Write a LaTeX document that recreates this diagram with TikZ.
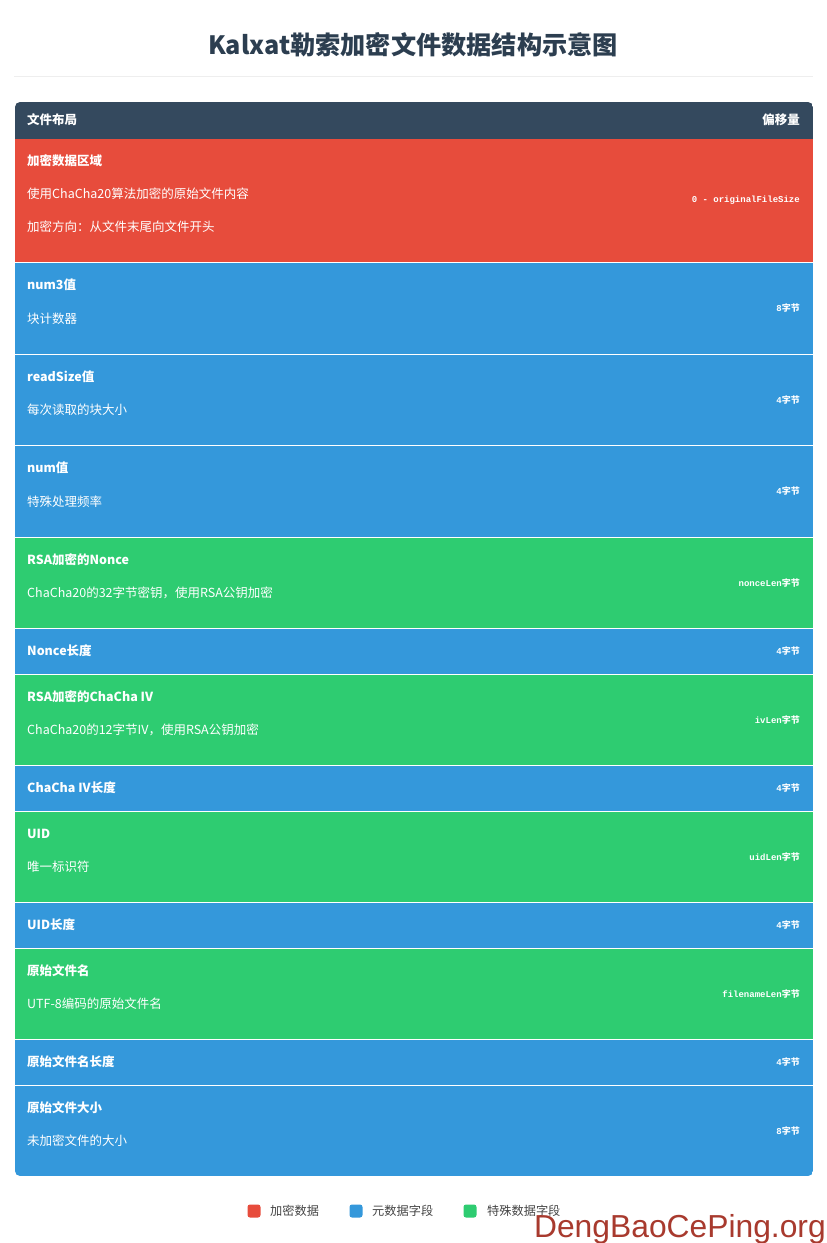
\documentclass[tikz,border=0pt]{standalone}
\usepackage{fontspec}
\setmainfont{Noto Sans CJK SC}
\newfontfamily\cjk{Noto Sans CJK SC}
\newfontfamily\offsetmono{Liberation Mono}
\newfontfamily\markfont{Liberation Sans}

\definecolor{headdark}{HTML}{34495E}
\definecolor{titledark}{HTML}{2C3E50}
\definecolor{encred}{HTML}{E74C3C}
\definecolor{metablue}{HTML}{3498DB}
\definecolor{specgreen}{HTML}{2ECC71}
\definecolor{rulegray}{HTML}{EEEEEE}
\definecolor{keygray}{HTML}{444444}
\definecolor{markred}{HTML}{A83A2E}

\begin{document}
\begin{tikzpicture}[
x=1pt,y=-1pt,
row/.style={
rectangle,
anchor=north west,
inner sep=0,
minimum width=798pt},
fieldname/.style={anchor=west, inner sep=0, text=white, font=\fontsize{12.5}{15}\selectfont\bfseries},
fielddesc/.style={anchor=west, inner sep=0, text=white, font=\fontsize{12.5}{15}\selectfont},
fieldsize/.style={anchor=east, inner sep=0, text=white, font=\fontsize{9}{10}\selectfont\offsetmono\bfseries},
sepline/.style={draw=white, line width=1pt},
keybox/.style={rectangle, rounded corners=2.5pt, minimum size=13pt, inner sep=0},
keytext/.style={anchor=west, inner sep=0, text=keygray, font=\fontsize{12.2}{14}\selectfont}
]

\fill[white] (0,0) rectangle (827,1243);
\useasboundingbox (0,0) rectangle (827,1243);

% title
\node[text=titledark, font=\fontsize{25.2}{28}\selectfont\bfseries] (heading) at (413,45) {Kalxat勒索加密文件数据结构示意图};
\coordinate (ruleL) at (14,76);
\coordinate (ruleR) at (813,76);
\draw[rulegray, line width=1pt] (ruleL) -- (ruleR);

% table rows
\begin{scope}
\clip[rounded corners=5pt] (15,102) rectangle (813,1176);
\node[row, fill=headdark, minimum height=37pt] (head) at (15,102) {};
\node[row, fill=encred, minimum height=123pt] (enc) at (15,139) {};
\node[row, fill=metablue, minimum height=92pt] (numthree) at (15,262) {};
\node[row, fill=metablue, minimum height=91pt] (readsize) at (15,354) {};
\node[row, fill=metablue, minimum height=92pt] (num) at (15,445) {};
\node[row, fill=specgreen, minimum height=91pt] (nonce) at (15,537) {};
\node[row, fill=metablue, minimum height=46pt] (noncelen) at (15,628) {};
\node[row, fill=specgreen, minimum height=91pt] (iv) at (15,674) {};
\node[row, fill=metablue, minimum height=46pt] (ivlen) at (15,765) {};
\node[row, fill=specgreen, minimum height=91pt] (uid) at (15,811) {};
\node[row, fill=metablue, minimum height=46pt] (uidlen) at (15,902) {};
\node[row, fill=specgreen, minimum height=91pt] (fname) at (15,948) {};
\node[row, fill=metablue, minimum height=46pt] (fnamelen) at (15,1039) {};
\node[row, fill=metablue, minimum height=91pt] (fsize) at (15,1085) {};
\end{scope}

% separators
\draw[sepline] (enc.south west) -- (enc.south east);
\draw[sepline] (numthree.south west) -- (numthree.south east);
\draw[sepline] (readsize.south west) -- (readsize.south east);
\draw[sepline] (num.south west) -- (num.south east);
\draw[sepline] (nonce.south west) -- (nonce.south east);
\draw[sepline] (noncelen.south west) -- (noncelen.south east);
\draw[sepline] (iv.south west) -- (iv.south east);
\draw[sepline] (ivlen.south west) -- (ivlen.south east);
\draw[sepline] (uid.south west) -- (uid.south east);
\draw[sepline] (uidlen.south west) -- (uidlen.south east);
\draw[sepline] (fname.south west) -- (fname.south east);
\draw[sepline] (fnamelen.south west) -- (fnamelen.south east);

% header texts
\node[fieldname] (headleft) at (27,120) {文件布局};
\node[fieldname, anchor=east] (headright) at (800,120) {偏移量};

% row texts
\node[fieldname] (encname) at (27,161) {加密数据区域};
\node[fielddesc] (encdescA) at (27,194) {使用ChaCha20算法加密的原始文件内容};
\node[fielddesc] (encdescB) at (27,227) {加密方向：从文件末尾向文件开头};
\node[fieldsize] (encsize) at (800,200) {0 - originalFileSize};

\node[fieldname] (numthreename) at (27,285) {num3值};
\node[fielddesc] (numthreedesc) at (27,319) {块计数器};
\node[fieldsize] (numthreesize) at (800,308) {8{\cjk 字节}};

\node[fieldname] (readsizename) at (27,377) {readSize值};
\node[fielddesc] (readsizedesc) at (27,410) {每次读取的块大小};
\node[fieldsize] (readsizesize) at (800,400) {4{\cjk 字节}};

\node[fieldname] (numname) at (27,468) {num值};
\node[fielddesc] (numdesc) at (27,502) {特殊处理频率};
\node[fieldsize] (numsize) at (800,491) {4{\cjk 字节}};

\node[fieldname] (noncename) at (27,560) {RSA加密的Nonce};
\node[fielddesc] (noncedesc) at (27,593) {ChaCha20的32字节密钥，使用RSA公钥加密};
\node[fieldsize] (noncesize) at (800,583) {nonceLen{\cjk 字节}};

\node[fieldname] (noncelenname) at (27,651) {Nonce长度};
\node[fieldsize] (noncelensize) at (800,651) {4{\cjk 字节}};

\node[fieldname] (ivname) at (27,697) {RSA加密的ChaCha IV};
\node[fielddesc] (ivdesc) at (27,730) {ChaCha20的12字节IV，使用RSA公钥加密};
\node[fieldsize] (ivsize) at (800,720) {ivLen{\cjk 字节}};

\node[fieldname] (ivlenname) at (27,788) {ChaCha IV长度};
\node[fieldsize] (ivlensize) at (800,788) {4{\cjk 字节}};

\node[fieldname] (uidname) at (27,834) {UID};
\node[fielddesc] (uiddesc) at (27,867) {唯一标识符};
\node[fieldsize] (uidsize) at (800,857) {uidLen{\cjk 字节}};

\node[fieldname] (uidlenname) at (27,925) {UID长度};
\node[fieldsize] (uidlensize) at (800,925) {4{\cjk 字节}};

\node[fieldname] (fnamename) at (27,971) {原始文件名};
\node[fielddesc] (fnamedesc) at (27,1004) {UTF-8编码的原始文件名};
\node[fieldsize] (fnamesize) at (800,994) {filenameLen{\cjk 字节}};

\node[fieldname] (fnamelenname) at (27,1062) {原始文件名长度};
\node[fieldsize] (fnamelensize) at (800,1062) {4{\cjk 字节}};

\node[fieldname] (fsizename) at (27,1108) {原始文件大小};
\node[fielddesc] (fsizedesc) at (27,1141) {未加密文件的大小};
\node[fieldsize] (fsizesize) at (800,1131) {8{\cjk 字节}};

% legend
\node[keybox, fill=encred] (keyenc) at (254,1211) {};
\node[keytext] (keyenctext) at (270,1211) {加密数据};
\node[keybox, fill=metablue] (keymeta) at (356,1211) {};
\node[keytext] (keymetatext) at (372,1211) {元数据字段};
\node[keybox, fill=specgreen] (keyspec) at (470,1211) {};
\node[keytext] (keyspectext) at (487,1211) {特殊数据字段};

% watermark
\node[anchor=base east, inner sep=0, text=markred, font=\fontsize{31.8}{34}\selectfont\markfont] (watermark) at (826,1237) {DengBaoCePing.org};

\end{tikzpicture}
\end{document}
